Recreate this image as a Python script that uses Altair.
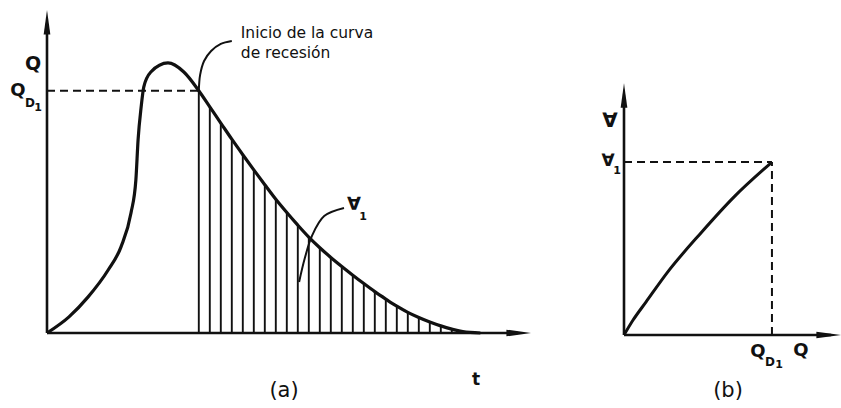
import altair as alt
import pandas as pd

# ---------------- (a) hydrograph: time t vs discharge Q ----------------
T_MAX = 11.0
Q_MAX = 10.0
Q_D1 = 7.5

# rising limb and peak
rise_t = [0.0, 0.50, 0.93, 1.39, 1.68, 1.91, 2.02, 2.07, 2.14, 2.20, 2.36, 2.75, 3.11]
rise_q = [0.0, 0.50, 1.11, 1.95, 2.66, 3.72, 4.74, 5.98, 7.00, 7.62, 8.08, 8.36, 8.08]

# recession limb, sampled at the hatch lines of the shaded volume
rec_t = [3.45, 3.70, 3.95, 4.20, 4.45, 4.70, 4.95, 5.20, 5.45, 5.70, 5.95, 6.20,
         6.45, 6.70, 6.95, 7.20, 7.45, 7.70, 7.95, 8.20, 8.45, 8.70, 8.95, 9.20]
rec_q = [7.50, 7.00, 6.50, 6.00, 5.52, 5.05, 4.59, 4.14, 3.73, 3.34, 2.97, 2.64,
         2.34, 2.06, 1.79, 1.53, 1.28, 1.05, 0.83, 0.64, 0.48, 0.34, 0.22, 0.12]
tail_t = [9.45, 9.85]
tail_q = [0.04, 0.0]

# leader lines of the annotations
lead1_t = [3.45, 3.48, 3.57, 3.73, 3.95, 4.20]
lead1_q = [7.50, 7.99, 8.42, 8.73, 8.95, 9.04]
lead2_t = [6.75, 6.30, 6.02, 5.86, 5.73]
lead2_q = [3.87, 3.62, 3.00, 2.32, 1.58]

# ---------------- (b) volume vs discharge ----------------
QB_MAX = 11.0
V_MAX = 10.0
V_TOP = 7.75
V_1 = 5.32
vb_q = [0.0, 0.46, 1.12, 2.23, 3.90, 5.58, 7.50]
vb_v = [0.0, 0.46, 1.02, 1.95, 3.14, 4.25, 5.32]

INK = "#111111"
FONT = "DejaVu Sans"
ARROW_UP = "M0,0 L-0.3,2.2 L0.3,2.2 Z"
ARROW_RIGHT = "M0,0 L-2.2,-0.3 L-2.2,0.3 Z"

ts = alt.Scale(domain=[0, T_MAX], nice=False, zero=False)
qs = alt.Scale(domain=[0, Q_MAX], nice=False, zero=False)
qbs = alt.Scale(domain=[0, QB_MAX], nice=False, zero=False)
vs = alt.Scale(domain=[0, V_MAX], nice=False, zero=False)


def px(field, scale):
    return alt.X(field, type="quantitative", scale=scale, axis=None)


def py(field, scale):
    return alt.Y(field, type="quantitative", scale=scale, axis=None)


def segments(rows, xs, ys, dash=None, width=2.5):
    df = pd.DataFrame(rows, columns=["x0", "y0", "x1", "y1"])
    kw = dict(color=INK, strokeWidth=width)
    if dash:
        kw["strokeDash"] = dash
    return alt.Chart(df).mark_rule(**kw).encode(
        x=px("x0", xs), y=py("y0", ys), x2="x1", y2="y1")


def arrow(xv, yv, shape, size, xs, ys):
    df = pd.DataFrame({"x": [xv], "y": [yv]})
    return alt.Chart(df).mark_point(shape=shape, size=size, filled=True,
                                    color=INK, opacity=1, strokeWidth=0).encode(
        x=px("x", xs), y=py("y", ys))


def label(text, xv, yv, dx, dy, size, xs, ys, weight="bold", align="center",
          baseline="middle"):
    df = pd.DataFrame({"x": [xv], "y": [yv]})
    return alt.Chart(df).mark_text(text=text, dx=dx, dy=dy, fontSize=size,
                                   fontWeight=weight, font=FONT, color=INK,
                                   align=align, baseline=baseline).encode(
        x=px("x", xs), y=py("y", ys))


# ---- panel (a) ----
hydro = pd.DataFrame({"t": rise_t + rec_t + tail_t, "Q": rise_q + rec_q + tail_q})
hatch = pd.DataFrame({"t": rec_t, "Q": rec_q, "base": [0.0] * len(rec_t)})
lead1 = pd.DataFrame({"t": lead1_t, "Q": lead1_q, "i": range(len(lead1_t))})
lead2 = pd.DataFrame({"t": lead2_t, "Q": lead2_q, "i": range(len(lead2_t))})

hatch_a = alt.Chart(hatch).mark_rule(color=INK, strokeWidth=1.9).encode(
    x=px("t", ts), y=py("Q", qs), y2="base")
curve_a = alt.Chart(hydro).mark_line(color=INK, strokeWidth=3.2,
                                     interpolate="monotone").encode(
    x=px("t", ts), y=py("Q", qs))
leader1 = alt.Chart(lead1).mark_line(color=INK, strokeWidth=2,
                                     interpolate="catmull-rom").encode(
    x=px("t", ts), y=py("Q", qs), order="i:Q")
leader2 = alt.Chart(lead2).mark_line(color=INK, strokeWidth=2,
                                     interpolate="catmull-rom").encode(
    x=px("t", ts), y=py("Q", qs), order="i:Q")

axes_a = segments([[0, 0, T_MAX - 0.3, 0], [0, 0, 0, Q_MAX - 0.5]], ts, qs, width=2.6)
dash_a = segments([[0, Q_D1, rec_t[0], Q_D1]], ts, qs, dash=[8, 5], width=2)

panel_a = alt.layer(
    hatch_a, axes_a, dash_a, curve_a, leader1, leader2,
    arrow(0, Q_MAX, ARROW_UP, 500, ts, qs),
    arrow(T_MAX, 0, ARROW_RIGHT, 500, ts, qs),
    label("Q", 0, Q_D1, -14, -27, 19, ts, qs),
    label("Q", 0, Q_D1, -29, 0, 18, ts, qs),
    label("D", 0, Q_D1, -17, 12, 12, ts, qs),
    label("1", 0, Q_D1, -9, 17, 11, ts, qs),
    label("Inicio de la curva", rec_t[0], Q_D1, 42, -53, 15.5, ts, qs,
          weight="normal", align="left", baseline="alphabetic"),
    label("de recesión", rec_t[0], Q_D1, 42, -33, 15.5, ts, qs,
          weight="normal", align="left", baseline="alphabetic"),
    label("∀", lead2_t[0], lead2_q[0], 10, -3, 18, ts, qs),
    label("1", lead2_t[0], lead2_q[0], 19, 9, 11, ts, qs),
    label("t", T_MAX, 0, -55, 47, 17, ts, qs),
    label("(a)", 0, 0, 237, 58, 21, ts, qs, weight="normal"),
).properties(width=484, height=323)

# ---- panel (b) ----
vol = pd.DataFrame({"Q": vb_q, "V": vb_v})
curve_b = alt.Chart(vol).mark_line(color=INK, strokeWidth=3,
                                   interpolate="monotone").encode(
    x=px("Q", qbs), y=py("V", vs))
axes_b = segments([[0, 0, QB_MAX - 0.5, 0], [0, 0, 0, V_TOP - 0.5]], qbs, vs, width=2.6)
dash_b = segments([[0, V_1, Q_D1, V_1], [Q_D1, 0, Q_D1, V_1]], qbs, vs,
                  dash=[8, 5], width=2)

panel_b = alt.layer(
    axes_b, dash_b, curve_b,
    arrow(0, V_TOP, ARROW_UP, 500, qbs, vs),
    arrow(QB_MAX, 0, ARROW_RIGHT, 500, qbs, vs),
    label("∀", 0, V_1, -14, -41, 20, qbs, vs),
    label("∀", 0, V_1, -16, -1, 17, qbs, vs),
    label("1", 0, V_1, -7, 9, 11, qbs, vs),
    label("Q", Q_D1, 0, -14, 17, 18, qbs, vs),
    label("D", Q_D1, 0, -2, 27, 12, qbs, vs),
    label("1", Q_D1, 0, 7, 30, 11, qbs, vs),
    label("Q", Q_D1, 0, 29, 16, 18, qbs, vs),
    label("(b)", 0, 0, 104, 56, 21, qbs, vs, weight="normal"),
).properties(width=217, height=325)

chart = alt.hconcat(panel_a, panel_b, spacing=93, bounds="flush").properties(
    padding={"left": 10, "top": 10, "right": 0, "bottom": 0},
    background="white",
).configure_view(stroke=None)

chart.save("out.html", embed_options={"renderer": "svg", "actions": False})
